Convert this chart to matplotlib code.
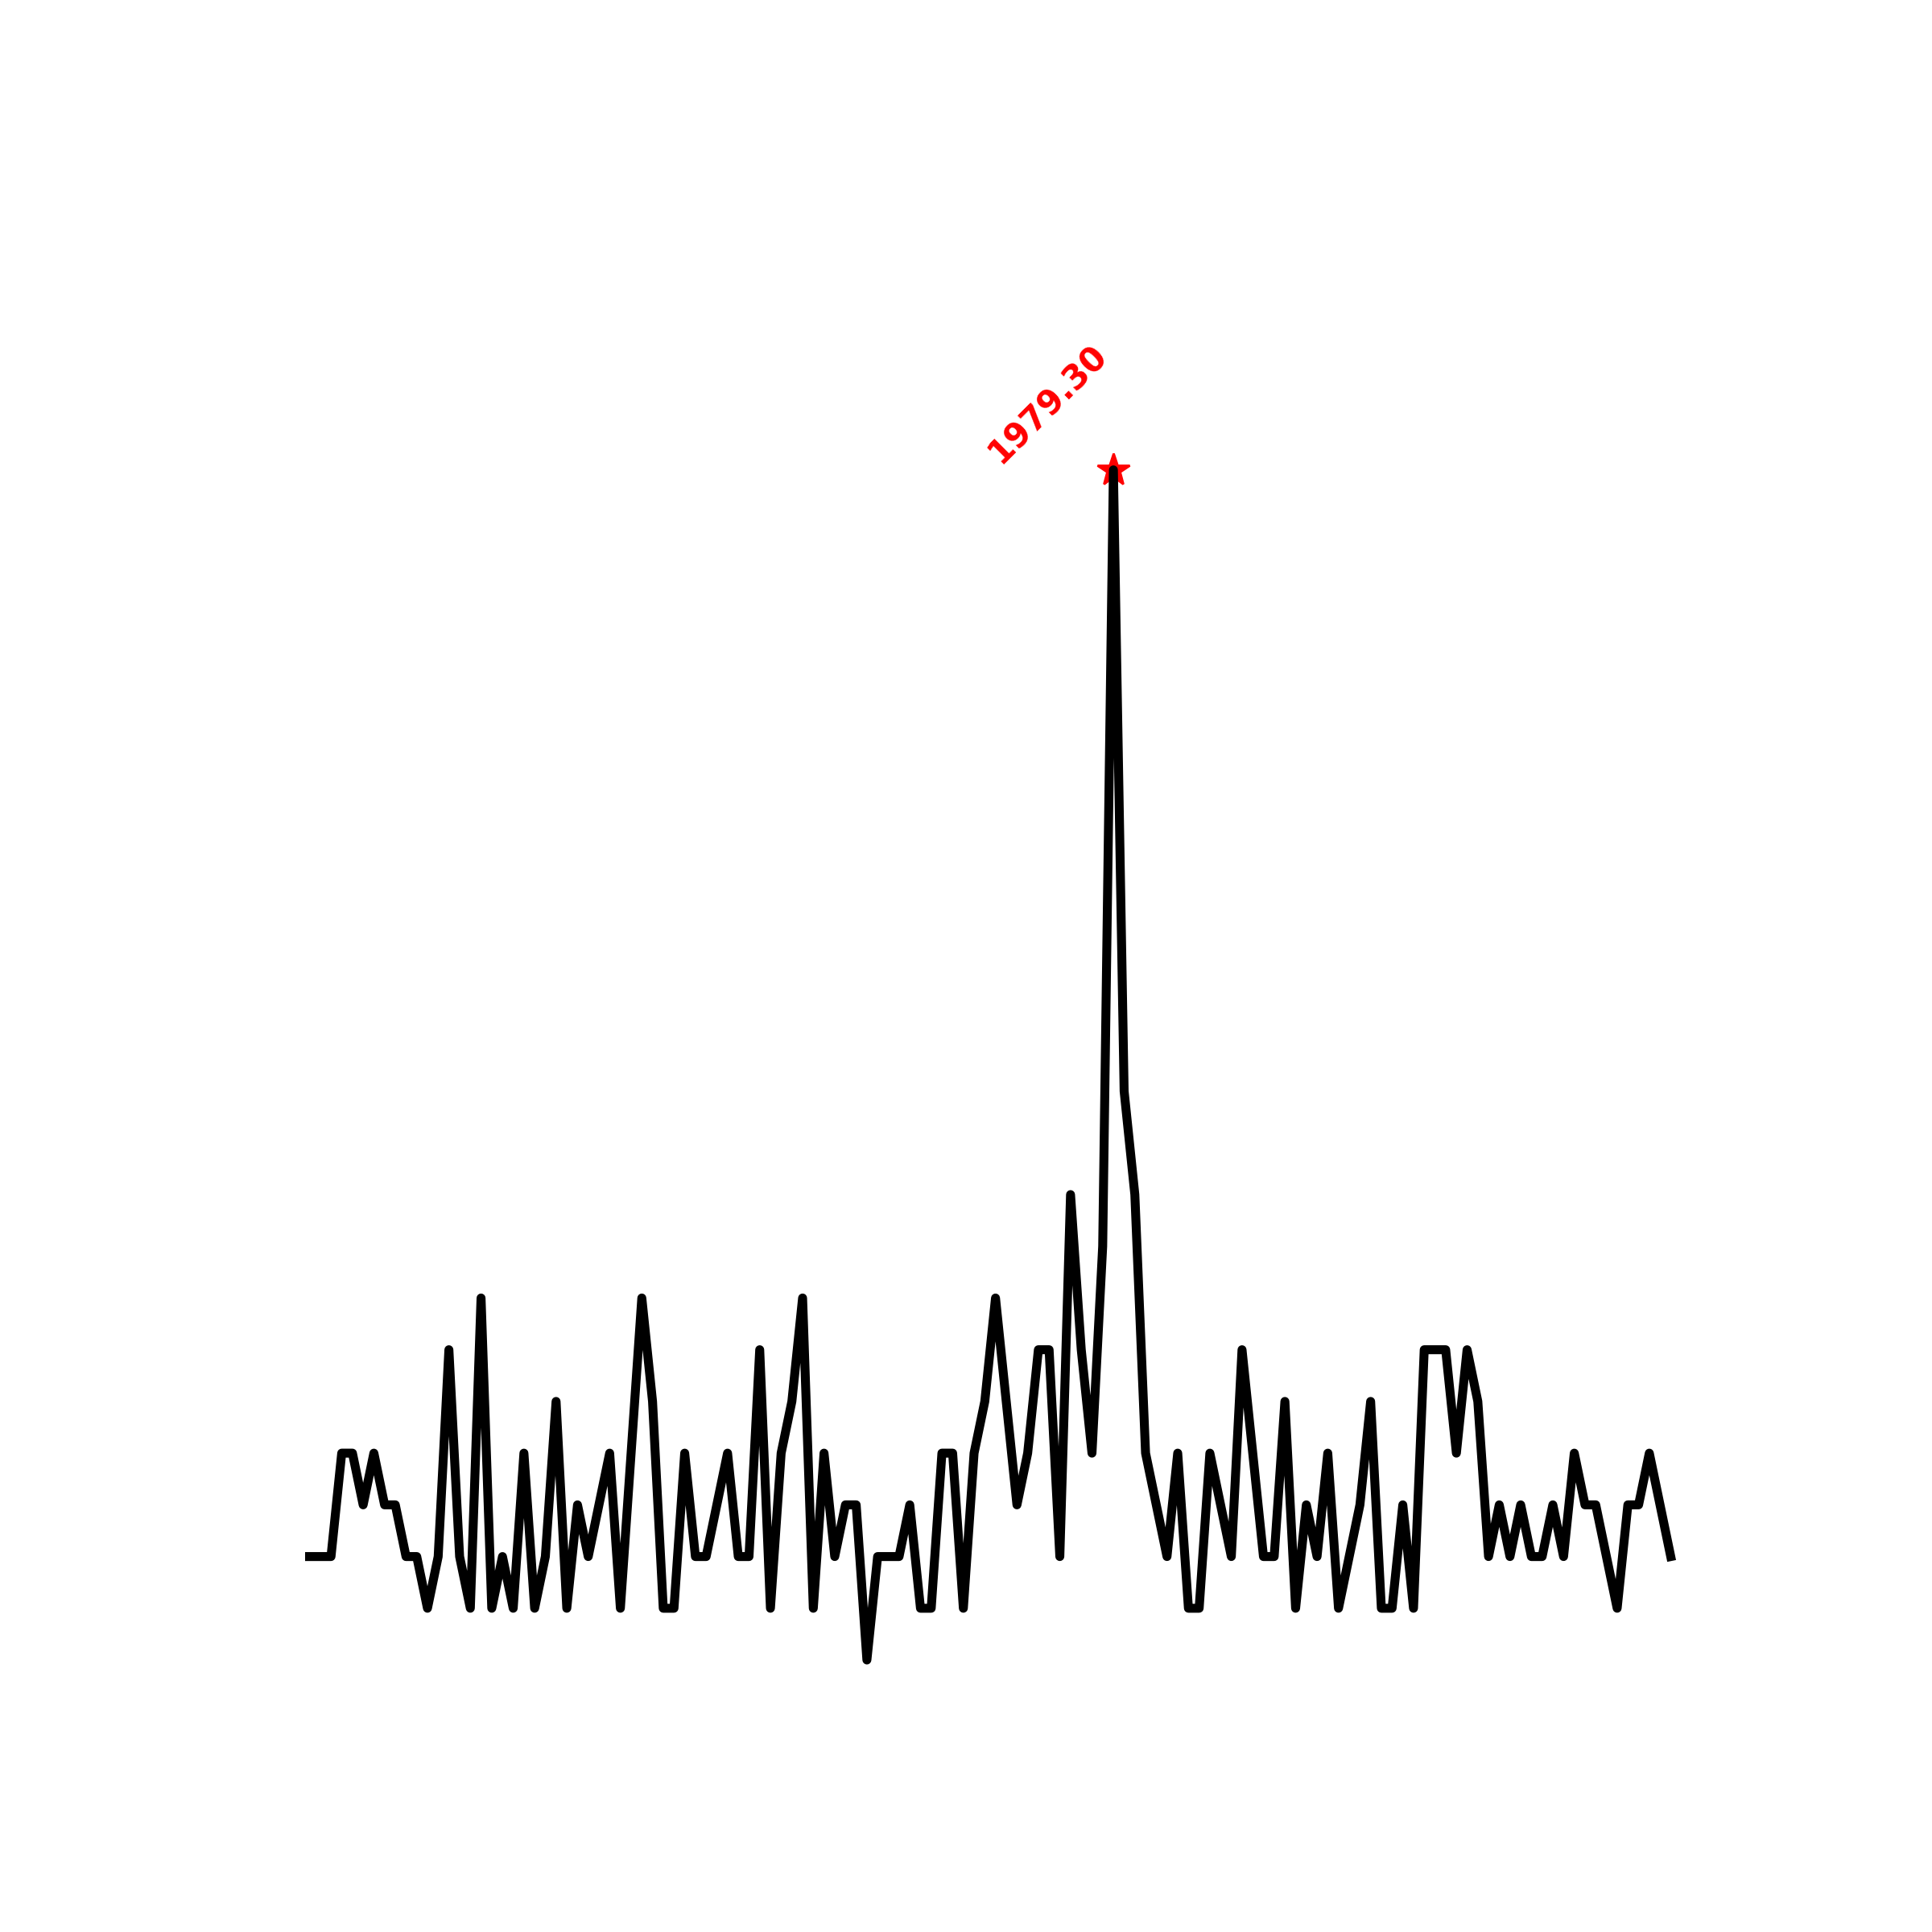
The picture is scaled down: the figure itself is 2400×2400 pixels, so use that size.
import numpy as np
import matplotlib.pyplot as plt

# series values (one point per step)
values = [172, 172, 172, 344, 344, 258, 344, 258, 258, 172,
          172, 86, 172, 516, 172, 86, 602, 86, 172, 86,
          344, 86, 172, 430, 86, 258, 172, 258, 344, 86,
          344, 602, 430, 86, 86, 344, 172, 172, 258, 344,
          172, 172, 516, 86, 344, 430, 602, 86, 344, 172,
          258, 258, 0, 172, 172, 172, 258, 86, 86, 344,
          344, 86, 344, 430, 602, 430, 258, 344, 516, 516,
          172, 774, 516, 344, 688, 1979.30, 946, 774, 344, 258,
          172, 344, 86, 86, 344, 258, 172, 516, 344, 172,
          172, 430, 86, 258, 172, 344, 86, 172, 258, 430,
          86, 86, 258, 86, 516, 516, 516, 344, 516, 430,
          172, 258, 172, 258, 172, 172, 258, 172, 344, 258,
          258, 172, 86, 258, 258, 344, 258, 172]

y = np.array(values)
x = np.arange(len(y))

imax = int(np.argmax(y))
ymin, ymax = y.min(), y.max()

fig, ax = plt.subplots(figsize=(12, 12), dpi=200)

# peak marker (under the line)
ax.plot(x[imax], y[imax], marker='*', color='red', markersize=15, zorder=1)
ax.plot(x, y, color='black', linewidth=4, zorder=2)

ax.text(x[imax], y[imax], f'{y[imax]:.2f}', rotation=45, ha='right', va='bottom',
        color='red', fontweight='bold', fontsize=15)

ax.set_ylim(ymin - 0.05 * (ymax - ymin), ymax * 1.2)
ax.axis('off')

fig.savefig('out.png', dpi=200)
